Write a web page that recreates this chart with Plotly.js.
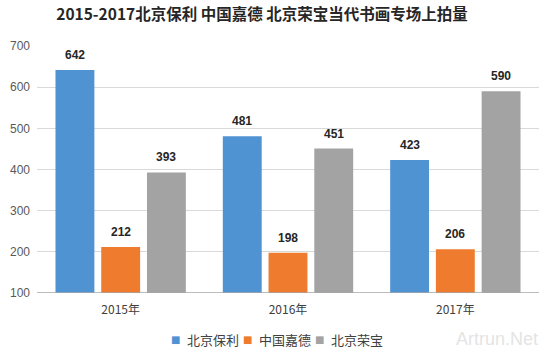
<!DOCTYPE html>
<html>
<head>
<meta charset="utf-8">
<script src="https://cdn.plot.ly/plotly-3.0.1.min.js"></script>
<style>html,body{margin:0;padding:0;background:#fff;}#chart{width:550px;height:357px;}</style>
</head>
<body>
<div id="chart"></div>
<script>
const categories = ["2015年", "2016年", "2017年"];
const seriesNames = ["北京保利", "中国嘉德", "北京荣宝"];
const baoli = [642, 481, 423];
const jiade = [212, 198, 206];
const rongbao = [393, 451, 590];
const colors = ["#4f93d3", "#ee7b2e", "#a3a3a3"];
const values = [baoli, jiade, rongbao];

const font = "'Noto Sans CJK SC', 'Liberation Sans', sans-serif";
const L = 37, W = 502, T = 46, H = 247;
const bargap = 0.18, bargroupgap = 0.15;
const slotPx = (W / categories.length) * (1 - bargap) / values.length;

const traces = values.map((v, i) => ({
  type: "bar",
  name: seriesNames[i],
  x: categories,
  y: v,
  base: 0,
  marker: {color: colors[i], line: {width: 0}},
  hoverinfo: "none"
}));

const px = x => (x - L) / W;
const py = y => (T + H - y) / H;
const annotations = [];
// value labels, placed at each bar's data value
values.forEach((v, i) => {
  v.forEach((val, j) => {
    annotations.push({text: "<b>" + val + "</b>", xref: "x", yref: "y", x: categories[j], y: val,
      xshift: (i - 1) * slotPx, yshift: 15, xanchor: "center", yanchor: "middle", showarrow: false,
      font: {family: "'Liberation Sans', sans-serif", size: 12, color: "#262626"}});
  });
});
// compact legend
const legendX = [175, 247, 319];
seriesNames.forEach((n, i) => {
  annotations.push({text: "■", xref: "paper", yref: "paper", x: px(legendX[i]), y: py(339), xanchor: "center", yanchor: "middle",
    showarrow: false, font: {family: "'DejaVu Sans', sans-serif", size: 10, color: colors[i]}});
  annotations.push({text: n, xref: "paper", yref: "paper", x: px(legendX[i] + 10), y: py(339), xanchor: "left", yanchor: "middle",
    showarrow: false, font: {family: font, size: 13, color: "#404040"}});
});
annotations.push({text: "Artrun.Net", xref: "paper", yref: "paper", x: px(540), y: py(339), xanchor: "right", yanchor: "middle",
  showarrow: false, font: {family: "'Liberation Sans', sans-serif", size: 18, color: "#e4e4e4"}});

const layout = {
  width: 550, height: 357,
  margin: {l: L, r: 550 - L - W, t: T, b: 357 - T - H},
  paper_bgcolor: "#fff", plot_bgcolor: "#fff",
  title: {text: "<b>2015-2017北京保利 中国嘉德 北京荣宝当代书画专场上拍量</b>", x: 262 / 550, xanchor: "center", y: 1 - 15 / 357, yanchor: "middle",
          font: {family: font, size: 15.5, color: "#262626"}},
  barmode: "group",
  bargap: bargap,
  bargroupgap: bargroupgap,
  showlegend: false,
  xaxis: {type: "category", tickfont: {family: font, size: 12, color: "#404040"}, showline: false, ticks: "", showgrid: false, ticklabelstandoff: 8},
  yaxis: {range: [100, 700], dtick: 100, tickfont: {family: "'Liberation Sans', sans-serif", size: 12, color: "#595959"},
          showgrid: true, gridcolor: "#d9d9d9", gridwidth: 1, zeroline: false, showline: false, ticks: "", ticklen: 0, ticklabelstandoff: 6},
  shapes: [{type: "line", xref: "paper", yref: "y", x0: 0, x1: 1, y0: 100, y1: 100, line: {color: "#a6a6a6", width: 1.5}}],
  annotations: annotations
};
Plotly.newPlot("chart", traces, layout, {displayModeBar: false, staticPlot: true});
</script>
</body>
</html>
